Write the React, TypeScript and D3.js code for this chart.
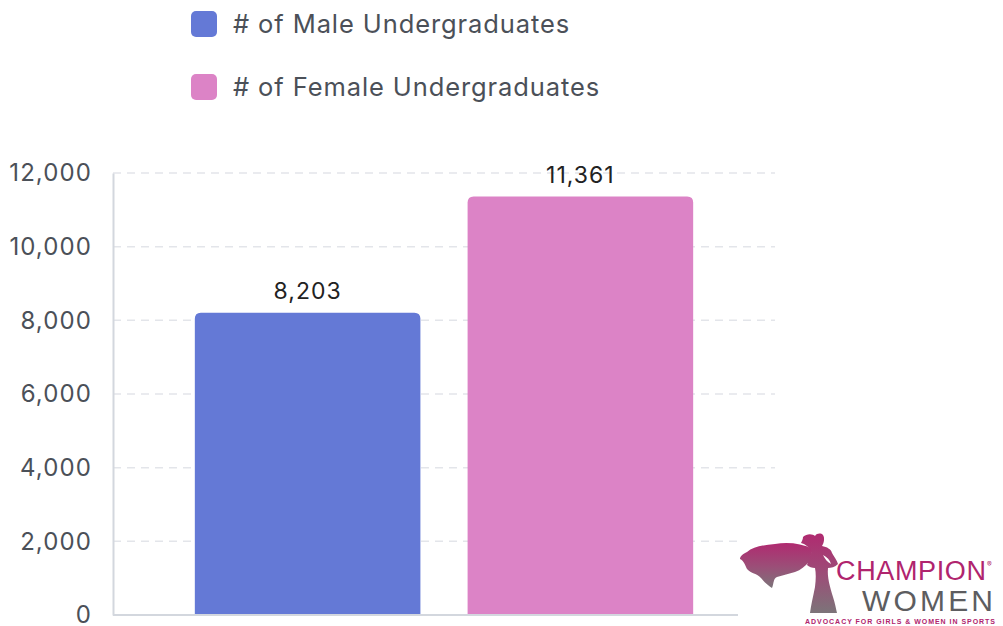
import React, { useEffect, useRef } from 'react';
import * as d3 from 'd3';

// chart data
const categories = ['# of Male Undergraduates', '# of Female Undergraduates'];
const values = [8203, 11361];
const colors = ['#6479d6', '#dc83c6'];
const yTicks = [0, 2000, 4000, 6000, 8000, 10000, 12000];

function App() {
  const svgRef = useRef<SVGSVGElement>(null);

  useEffect(() => {
    const width = 1003;
    const height = 626;
    const margin = { top: 173, right: 228, bottom: 11, left: 113 };
    const font = 'Inter, "Noto Sans", sans-serif';

    const root = d3.select(svgRef.current)
      .attr('width', width)
      .attr('height', height);
    root.selectAll('*').remove();

    root.append('rect').attr('width', width).attr('height', height).attr('fill', '#ffffff');

    const x = d3.scaleBand<string>()
      .domain(categories)
      .range([margin.left, width - margin.right])
      .paddingInner(0.173)
      .paddingOuter(0.3);

    const y = d3.scaleLinear()
      .domain([0, 12000])
      .range([height - margin.bottom, margin.top]);

    // gridlines
    root.append('g')
      .selectAll('line')
      .data(yTicks.filter(d => d > 0))
      .enter().append('line')
      .attr('x1', margin.left)
      .attr('x2', width - margin.right)
      .attr('y1', d => y(d))
      .attr('y2', d => y(d))
      .attr('stroke', '#e3e5ea')
      .attr('stroke-width', 1.5)
      .attr('stroke-dasharray', '8,6');

    // y axis labels
    const yAxis = root.append('g')
      .attr('transform', `translate(${margin.left},0)`)
      .call(d3.axisLeft(y).tickValues(yTicks).tickSize(0).tickPadding(21).tickFormat(d3.format(',')));
    yAxis.select('.domain').attr('stroke', '#d3d7de').attr('stroke-width', 2);
    yAxis.selectAll('text')
      .attr('font-family', font)
      .attr('font-size', 24)
      .attr('letter-spacing', 1.1)
      .attr('fill', '#4b5058');

    // bottom axis line
    root.append('line')
      .attr('x1', margin.left)
      .attr('x2', width - margin.right)
      .attr('y1', y(0))
      .attr('y2', y(0))
      .attr('stroke', '#d3d7de')
      .attr('stroke-width', 2);

    // bars with rounded top corners
    const r = 6;
    root.append('g')
      .selectAll('path')
      .data(values)
      .enter().append('path')
      .attr('fill', (_, i) => colors[i])
      .attr('d', (d, i) => {
        const x0 = x(categories[i])!;
        const x1 = x0 + x.bandwidth();
        const y0 = y(d);
        const yb = y(0) - 1;
        return `M${x0},${yb}V${y0 + r}Q${x0},${y0} ${x0 + r},${y0}H${x1 - r}Q${x1},${y0} ${x1},${y0 + r}V${yb}Z`;
      });

    // value labels
    root.append('g')
      .selectAll('text')
      .data(values)
      .enter().append('text')
      .attr('x', (_, i) => x(categories[i])! + x.bandwidth() / 2)
      .attr('y', d => y(d) - 14)
      .attr('text-anchor', 'middle')
      .attr('font-family', font)
      .attr('font-size', 23)
      .attr('letter-spacing', 1.0)
      .attr('fill', '#222222')
      .text(d => d3.format(',')(d));

    // legend
    const legend = root.append('g')
      .selectAll('g')
      .data(categories)
      .enter().append('g')
      .attr('transform', (_, i) => `translate(191,${11 + i * 63})`);
    legend.append('rect')
      .attr('width', 26)
      .attr('height', 26)
      .attr('rx', 5)
      .attr('fill', (_, i) => colors[i]);
    legend.append('text')
      .attr('x', 42)
      .attr('y', 22)
      .attr('font-family', font)
      .attr('font-size', 25.5)
      .attr('letter-spacing', 0.9)
      .attr('fill', '#4b5058')
      .text(d => d);

    // logo
    const logo = root.append('g').attr('transform', 'translate(735,525)');
    logo.append('rect').attr('x', 3).attr('y', 5).attr('width', 265).attr('height', 96).attr('fill', '#ffffff');
    const grad = root.append('defs').append('linearGradient')
      .attr('id', 'capeGrad').attr('x1', 0).attr('y1', 0).attr('x2', 0).attr('y2', 1);
    grad.append('stop').attr('offset', '0%').attr('stop-color', '#b02a70');
    grad.append('stop').attr('offset', '55%').attr('stop-color', '#9a5078');
    grad.append('stop').attr('offset', '100%').attr('stop-color', '#7c7479');
    // cape
    logo.append('path')
      .attr('fill', 'url(#capeGrad)')
      .attr('d', 'M78,24 C66,18 52,17 40,19 C28,20 18,22 12,27 C8,29 5,31 5,34 C9,36 10,40 12,44 C16,49 22,48 26,53 C30,58 34,61 37,63 C39,58 38,54 42,52 C48,50 54,49 60,47 C66,45 70,41 74,37 Z');
    // figure
    logo.append('path')
      .attr('fill', 'url(#capeGrad)')
      .attr('d', 'M68,12 C72,8 78,9 80,11 C82,8 86,8 88,10 C90,13 89,18 87,21 C92,22 96,24 97,28 C99,32 102,35 103,39 C100,42 96,43 93,43 C92,52 95,62 98,72 C100,78 101,84 102,88 L75,88 C76,80 78,72 80,62 C81,54 81,48 80,43 C77,43 74,42 72,40 C74,35 75,30 77,26 C74,22 70,19 66,18 C67,16 68,14 68,12 Z M88,30 C90,34 92,37 96,39 C95,35 92,32 88,30 Z');
    logo.append('text')
      .attr('x', 101).attr('y', 55)
      .attr('font-family', '"Liberation Sans", sans-serif')
      .attr('font-size', 27)
      .attr('textLength', 150)
      .attr('fill', '#b0246e')
      .text('CHAMPION');
    logo.append('text')
      .attr('x', 252).attr('y', 42)
      .attr('font-family', font)
      .attr('font-size', 7)
      .attr('fill', '#b0246e')
      .text('®');
    logo.append('text')
      .attr('x', 127).attr('y', 86)
      .attr('font-family', '"Liberation Sans", sans-serif')
      .attr('font-size', 30)
      .attr('textLength', 131)
      .attr('fill', '#5d5d60')
      .text('WOMEN');
    logo.append('text')
      .attr('x', 70).attr('y', 99)
      .attr('font-family', '"Liberation Sans", sans-serif')
      .attr('font-size', 7)
      .attr('font-weight', 'bold')
      .attr('textLength', 190)
      .attr('fill', '#b0246e')
      .text('ADVOCACY FOR GIRLS & WOMEN IN SPORTS');
  }, []);

  return (
    <svg ref={svgRef} style={{ position: 'absolute', left: 0, top: 0 }}></svg>
  );
}

export default App;
